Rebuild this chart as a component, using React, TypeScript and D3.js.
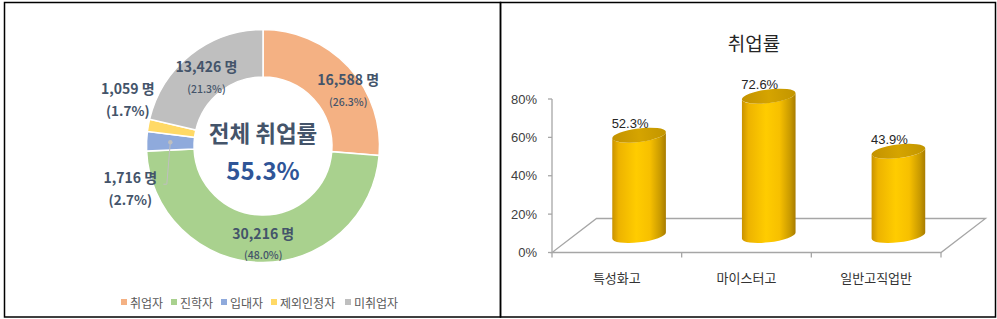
import React from "react";
import * as d3 from "d3";

// ---------- data ----------
const donutLabels = ["취업자", "진학자", "입대자", "제외인정자", "미취업자"];
const donutCounts = ["16,588", "30,216", "1,716", "1,059", "13,426"];
const donutShares = [26.3, 48.0, 2.7, 1.7, 21.3];
const donutColors = ["#F4B183", "#A9D18E", "#8FAADC", "#FFD966", "#BFBFBF"];
const overallRate = "55.3%";
const centerTitle = "전체 취업률";

const barCategories = ["특성화고", "마이스터고", "일반고직업반"];
const barValues = [0.523, 0.726, 0.439];
const yTicks = [0, 0.2, 0.4, 0.6, 0.8];
const barTitle = "취업률";

// label layout (offsets from slice centroid, outside-label flags)
const labelOffsets: [number, number][] = [
  [17, 7],
  [2, 5],
  [-40, 46],
  [-44, -30],
  [1, 4],
];
const smallSlice = [false, false, true, true, false];

const KR = "'Noto Sans CJK KR', 'Noto Sans', sans-serif";
const AR = "'Liberation Sans', Arial, sans-serif";

function Donut() {
  const cx = 263;
  const cy = 146;
  const rOuter = 116.5;
  const rInner = 69;
  const pie = d3
    .pie<number>()
    .sort(null)
    .value((d) => d)
    .startAngle(0)
    .endAngle(2 * Math.PI);
  const arcs = pie(donutShares);
  const arc = d3.arc<d3.PieArcDatum<number>>().innerRadius(rInner).outerRadius(rOuter);
  const textColor = "#44546A";

  // legend positions
  const legendX0 = 121;
  const legendPos: number[] = [];
  let lx = legendX0;
  donutLabels.forEach((l) => {
    legendPos.push(lx);
    lx += 6 + 3 + l.length * 12 + 5;
  });

  return (
    <g>
      <g transform={`translate(${cx},${cy})`}>
        {arcs.map((a, i) => (
          <path key={i} d={arc(a) || ""} fill={donutColors[i]} stroke="#fff" strokeWidth={1.5} />
        ))}
        {/* leader line for 입대자 */}
        {(() => {
          const c = arc.centroid(arcs[2]);
          const [, oy] = labelOffsets[2];
          const endY = c[1] + oy - 4;
          return (
            <g>
              <circle cx={c[0]} cy={c[1]} r={2.2} fill="#BFBFBF" />
              <polyline
                points={`${c[0]},${c[1]} ${c[0] - 3.5},${endY} ${c[0] - 7},${endY}`}
                fill="none"
                stroke="#BFBFBF"
                strokeWidth={1}
              />
            </g>
          );
        })()}
        {arcs.map((a, i) => {
          const c = arc.centroid(a);
          const x = c[0] + labelOffsets[i][0];
          const y = c[1] + labelOffsets[i][1];
          return (
            <g key={"l" + i} fontFamily={KR} fill={textColor} textAnchor="middle">
              <text x={x} y={y - 11} fontSize={14} fontWeight={700} dominantBaseline="central">
                {donutCounts[i]} 명
              </text>
              <text
                x={x}
                y={y + 11}
                fontSize={smallSlice[i] ? 13.5 : 10.5}
                fontWeight={smallSlice[i] ? 700 : 500}
                dominantBaseline="central"
              >
                ({donutShares[i].toFixed(1)}%)
              </text>
            </g>
          );
        })}
        <text
          x={0}
          y={-14}
          textAnchor="middle"
          dominantBaseline="central"
          fontFamily={KR}
          fontSize={22.5}
          fontWeight={700}
          fill={textColor}
        >
          {centerTitle}
        </text>
        <text
          x={0}
          y={23}
          textAnchor="middle"
          dominantBaseline="central"
          fontFamily={KR}
          fontSize={24}
          fontWeight={700}
          fill="#2F5597"
        >
          {overallRate}
        </text>
      </g>
      {donutLabels.map((l, i) => (
        <g key={"lg" + i}>
          <rect x={legendPos[i]} y={299} width={6} height={6} fill={donutColors[i]} />
          <text
            x={legendPos[i] + 9}
            y={302}
            dominantBaseline="central"
            fontFamily={KR}
            fontSize={12}
            fill="#595959"
          >
            {l}
          </text>
        </g>
      ))}
    </g>
  );
}

function ellipsePoint(cx: number, cy: number, rx: number, ry: number, th: number, t: number) {
  return [
    cx + rx * Math.cos(t) * Math.cos(th) - ry * Math.sin(t) * Math.sin(th),
    cy + rx * Math.cos(t) * Math.sin(th) + ry * Math.sin(t) * Math.cos(th),
  ];
}

function Bars() {
  const x0 = 552;
  const x1 = 941;
  const depthX = 44.5;
  const depthY = -34;
  const y = d3.scaleLinear().domain([0, 0.8]).range([252.5, 99]);
  const x = d3.scaleBand<string>().domain(barCategories).range([x0, x1]).padding(0);
  const bw = 54;
  const rx = bw / 2;
  const ry = 6.8;
  const thDeg = -7;
  const th = (thDeg * Math.PI) / 180;
  const tExt = Math.atan2(-(ry * Math.sin(th)), rx * Math.cos(th));
  const axisColor = "#A6A6A6";
  const floorFront = y(0);

  return (
    <g>
      <defs>
        <linearGradient id="cylBody" x1="0" x2="1" y1="0" y2="0">
          <stop offset="0" stopColor="#C99200" />
          <stop offset="0.12" stopColor="#EDB300" />
          <stop offset="0.45" stopColor="#FFCC00" />
          <stop offset="0.7" stopColor="#F7C000" />
          <stop offset="0.9" stopColor="#C99A00" />
          <stop offset="1" stopColor="#A87C00" />
        </linearGradient>
        <linearGradient id="cylTop" x1="0" x2="1" y1="0" y2="0">
          <stop offset="0" stopColor="#C39200" />
          <stop offset="0.5" stopColor="#D5A400" />
          <stop offset="1" stopColor="#C29500" />
        </linearGradient>
      </defs>
      <text
        x={754}
        y={42}
        textAnchor="middle"
        dominantBaseline="central"
        fontFamily={KR}
        fontSize={19}
        fill="#262626"
      >
        {barTitle}
      </text>
      {/* floor */}
      <polygon
        points={`${x0},${floorFront} ${x1},${floorFront} ${x1 + depthX},${floorFront + depthY} ${x0 + depthX},${floorFront + depthY}`}
        fill="none"
        stroke={axisColor}
        strokeWidth={1.3}
      />
      {/* y axis */}
      <line x1={x0} x2={x0} y1={y(0)} y2={y(0.8)} stroke={axisColor} strokeWidth={1.3} />
      {yTicks.map((t) => (
        <g key={t}>
          <line x1={x0 - 4} x2={x0} y1={y(t)} y2={y(t)} stroke={axisColor} strokeWidth={1.3} />
          <text
            x={x0 - 15}
            y={y(t)}
            textAnchor="end"
            dominantBaseline="central"
            fontFamily={AR}
            fontSize={13}
            fill="#404040"
          >
            {d3.format(".0%")(t)}
          </text>
        </g>
      ))}
      {/* category ticks */}
      {[x0, ...barCategories.map((c) => (x(c) as number) + x.bandwidth())].map((tx, i) => (
        <line key={"ct" + i} x1={tx} x2={tx} y1={floorFront} y2={floorFront + 5} stroke={axisColor} strokeWidth={1.3} />
      ))}
      {barCategories.map((c) => (
        <text
          key={c}
          x={(x(c) as number) + x.bandwidth() / 2}
          y={277}
          textAnchor="middle"
          dominantBaseline="central"
          fontFamily={KR}
          fontSize={13}
          fill="#333"
        >
          {c}
        </text>
      ))}
      {/* cylinders */}
      {barCategories.map((c, i) => {
        const cxb = (x(c) as number) + x.bandwidth() / 2 + depthX / 2;
        const yb = y(0) + depthY / 2;
        const yt = y(barValues[i]) + depthY / 2;
        const bl = ellipsePoint(cxb, yb, rx, ry, th, tExt + Math.PI);
        const br = ellipsePoint(cxb, yb, rx, ry, th, tExt);
        const tl = ellipsePoint(cxb, yt, rx, ry, th, tExt + Math.PI);
        const tr = ellipsePoint(cxb, yt, rx, ry, th, tExt);
        const body =
          `M${tl[0]},${tl[1]} L${bl[0]},${bl[1]} ` +
          `A${rx},${ry} ${thDeg} 0 0 ${br[0]},${br[1]} ` +
          `L${tr[0]},${tr[1]} ` +
          `A${rx},${ry} ${thDeg} 0 1 ${tl[0]},${tl[1]} Z`;
        return (
          <g key={"b" + i}>
            <path d={body} fill="url(#cylBody)" />
            <ellipse
              cx={cxb}
              cy={yt}
              rx={rx}
              ry={ry}
              transform={`rotate(${thDeg},${cxb},${yt})`}
              fill="url(#cylTop)"
            />
            <text
              x={cxb - 9}
              y={yt - 12}
              textAnchor="middle"
              dominantBaseline="central"
              fontFamily={AR}
              fontSize={13}
              fill="#262626"
            >
              {d3.format(".1%")(barValues[i])}
            </text>
          </g>
        );
      })}
    </g>
  );
}

export default function App() {
  return (
    <svg
      width={997}
      height={319}
      style={{ position: "absolute", left: 0, top: 0, background: "#fff" }}
    >
      <rect x={0} y={0} width={997} height={319} fill="#fff" />
      <rect x={4.5} y={2.5} width={496} height={314.5} fill="none" stroke="#000" strokeWidth={1.5} />
      <rect x={500.5} y={2.5} width={495} height={314.5} fill="none" stroke="#000" strokeWidth={1.5} />
      <Donut />
      <Bars />
    </svg>
  );
}
